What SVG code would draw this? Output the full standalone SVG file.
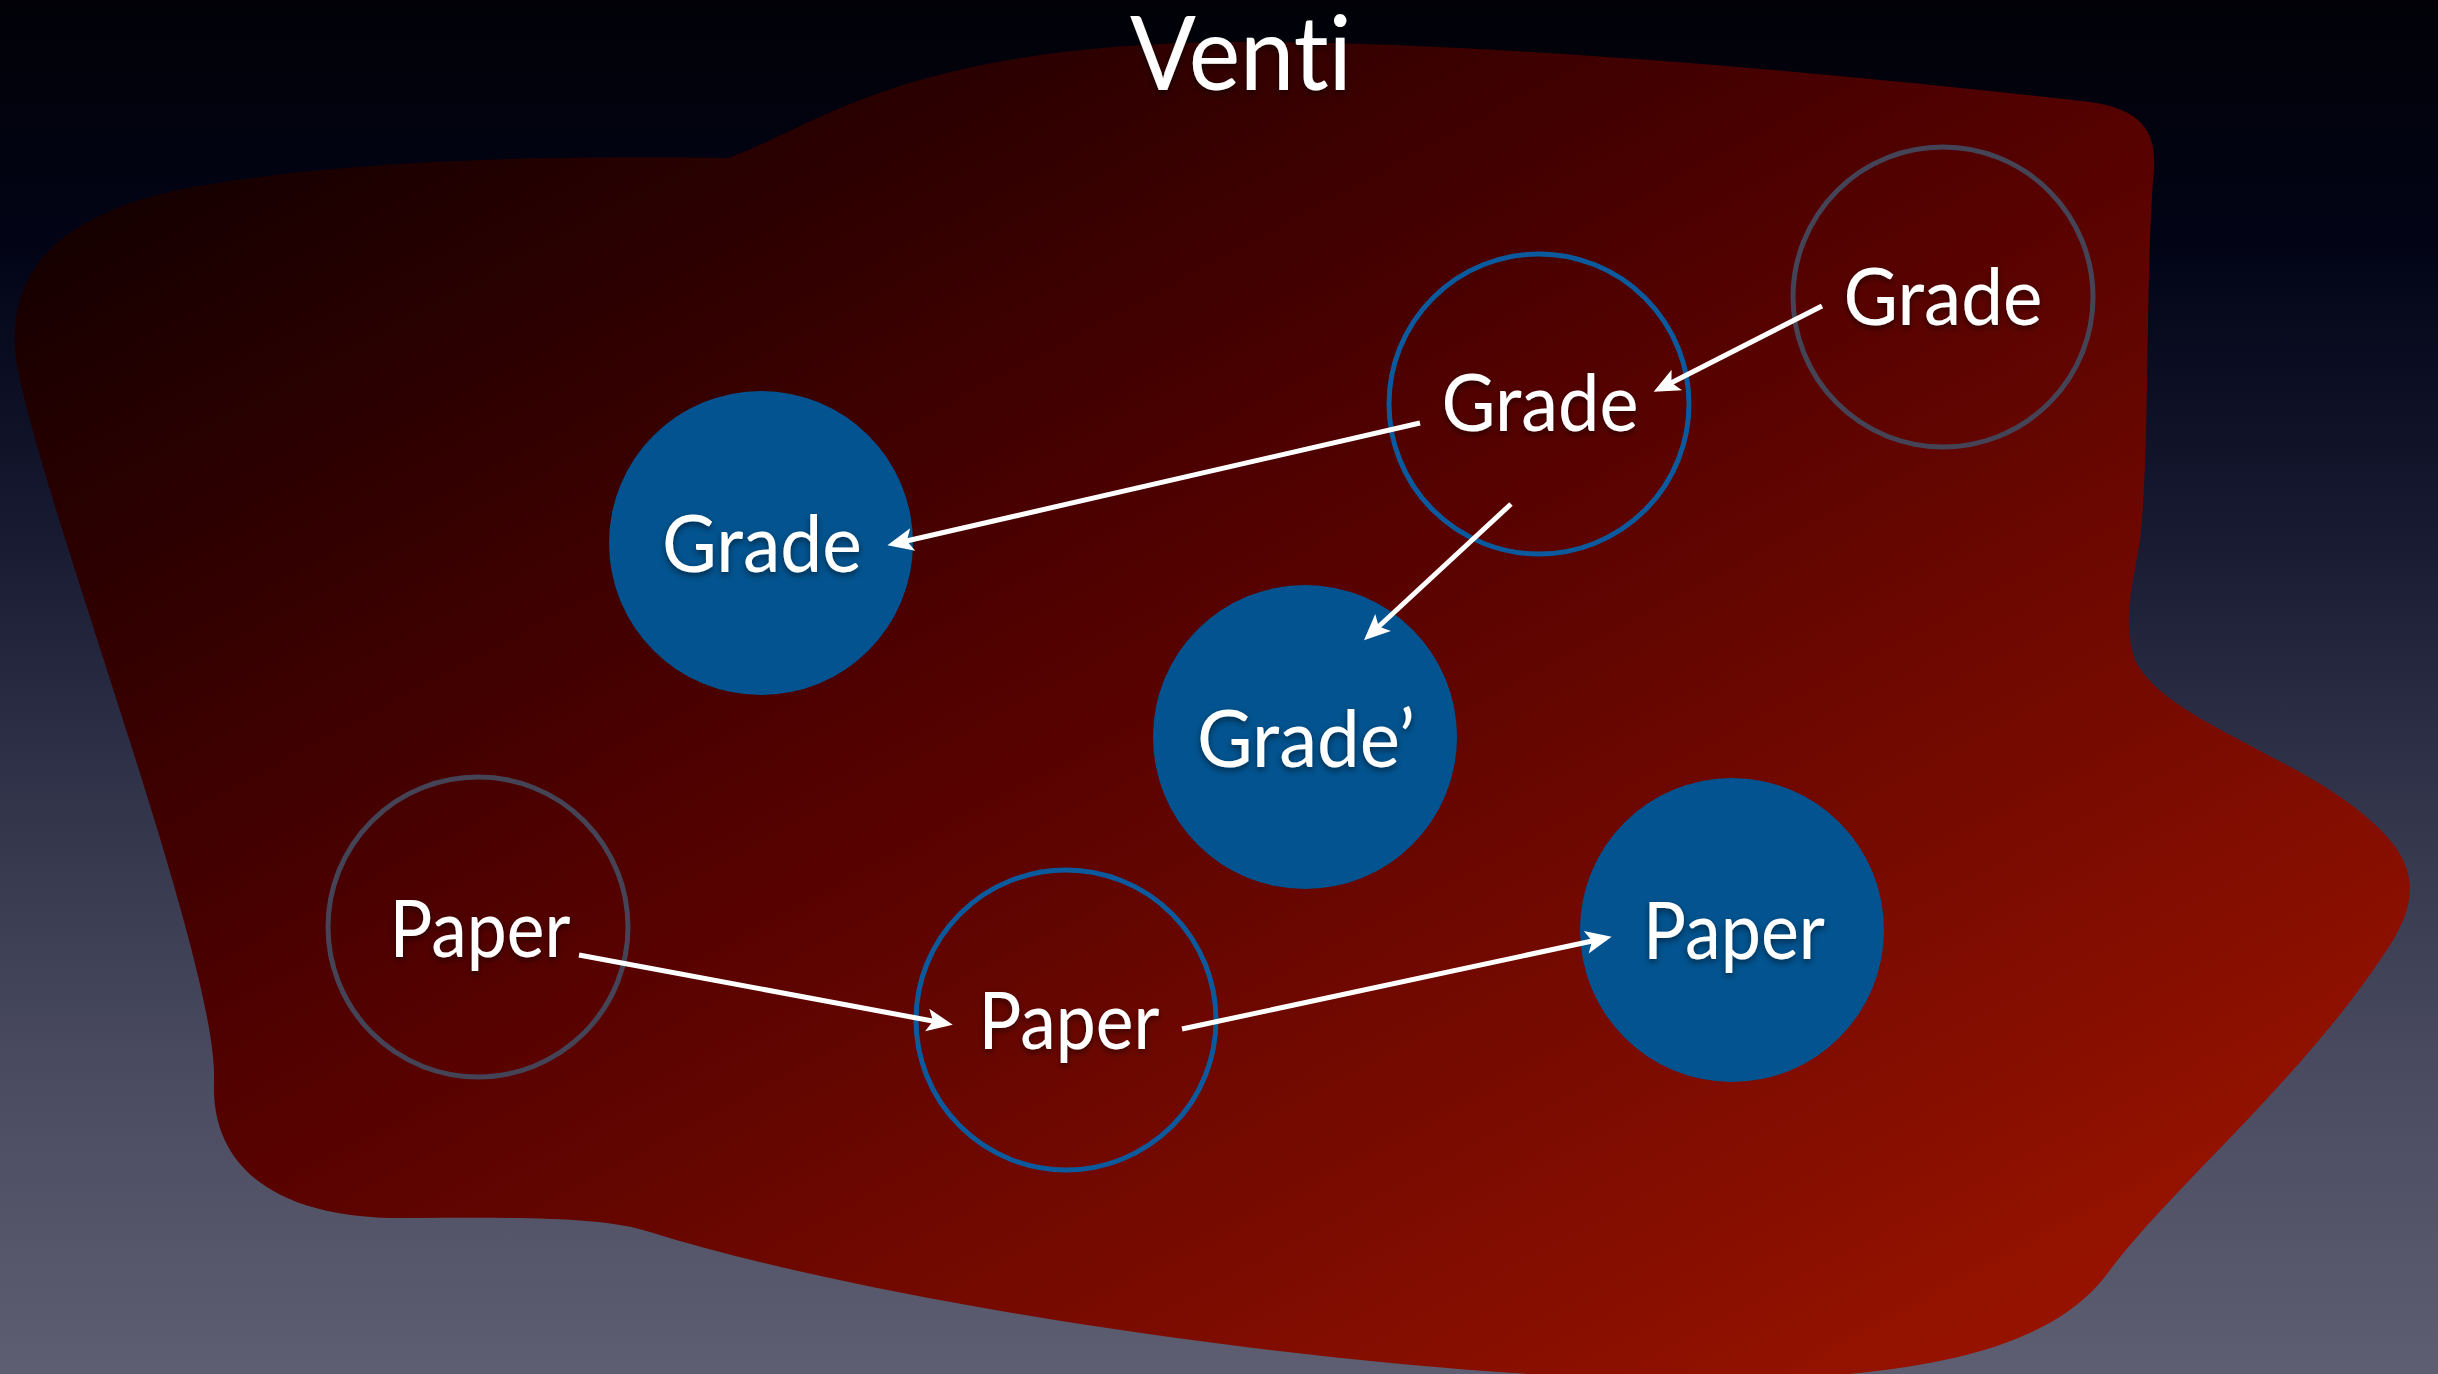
<svg xmlns="http://www.w3.org/2000/svg" width="2438" height="1374" viewBox="0 0 2438 1374">
<defs>
<linearGradient id="bg" x1="0" y1="0" x2="0" y2="1">
<stop offset="0" stop-color="#010107"/>
<stop offset="0.18" stop-color="#020416"/>
<stop offset="0.38" stop-color="#161930"/>
<stop offset="0.55" stop-color="#2e3047"/>
<stop offset="0.78" stop-color="#4a4b60"/>
<stop offset="1" stop-color="#5e5e72"/>
</linearGradient>
<linearGradient id="blob" gradientUnits="userSpaceOnUse" x1="100" y1="150" x2="1035" y2="1892">
<stop offset="0" stop-color="#120000"/>
<stop offset="0.45" stop-color="#520100"/>
<stop offset="1" stop-color="#981300"/>
</linearGradient>
<filter id="ts" x="-10%" y="-20%" width="120%" height="150%">
<feDropShadow dx="0" dy="3" stdDeviation="3" flood-color="#000000" flood-opacity="0.5"/>
</filter>
<marker id="ah" markerUnits="userSpaceOnUse" markerWidth="40" markerHeight="40" viewBox="-20 -20 40 40" refX="0" refY="0" orient="auto">
<path d="M15,0 L-11,-11.5 L-5,0 L-11,11.5 Z" fill="#ffffff"/>
</marker>
<style>
.lbl{font-family:Lato,"Open Sans","DejaVu Sans",sans-serif;fill:#ffffff;text-anchor:middle;filter:url(#ts);font-variant-ligatures:none}
.n{font-size:80px}
.filled{fill:#02538f;stroke:none}
.outb{fill:none;stroke:#0b5a9e;stroke-width:5}
.outg{fill:none;stroke:#454457;stroke-width:5}
.edge{stroke:#ffffff;stroke-width:5;fill:none;marker-end:url(#ah)}
</style>
</defs>
<rect x="0" y="0" width="2438" height="1374" fill="url(#bg)"/>
<path id="region" fill="url(#blob)" d="M 728 158 C 820 125 900 48 1220 42 C 1500 40 1900 80 2090 102 C 2150 110 2158 140 2153 180 C 2145 300 2150 450 2140 540 C 2132 590 2122 620 2135 660 C 2160 710 2250 740 2330 790 C 2420 850 2430 890 2380 960 C 2300 1080 2170 1190 2110 1270 C 2060 1340 1950 1380 1700 1380 C 1400 1380 900 1310 650 1232 C 600 1215 500 1218 400 1218 C 280 1218 210 1170 214 1080 C 218 960 40 500 16 360 C 5 270 60 210 200 186 C 350 160 550 155 728 158 Z"/>
<text class="lbl" x="1241" y="90" font-size="102" textLength="222" lengthAdjust="spacingAndGlyphs">Venti</text>
<g id="grade-filled">
<circle class="filled" cx="761" cy="543" r="152"/>
<text class="lbl n" x="762" y="572" textLength="200" lengthAdjust="spacingAndGlyphs">Grade</text>
</g>
<g id="grade-mid">
<circle class="outb" cx="1539" cy="404" r="150"/>
<text class="lbl n" x="1540" y="431" textLength="197" lengthAdjust="spacingAndGlyphs">Grade</text>
</g>
<g id="grade-gray">
<circle class="outg" cx="1943" cy="297" r="150"/>
<text class="lbl n" x="1943" y="325" textLength="199" lengthAdjust="spacingAndGlyphs">Grade</text>
</g>
<g id="grade-prime">
<circle class="filled" cx="1305" cy="737" r="152"/>
<text class="lbl n" x="1306" y="767" textLength="218" lengthAdjust="spacingAndGlyphs">Grade’</text>
</g>
<g id="paper-gray">
<circle class="outg" cx="478" cy="927" r="150"/>
<text class="lbl n" x="480" y="957" textLength="181" lengthAdjust="spacingAndGlyphs">Paper</text>
</g>
<g id="paper-mid">
<circle class="outb" cx="1066" cy="1020" r="150"/>
<text class="lbl n" x="1069" y="1049" textLength="181" lengthAdjust="spacingAndGlyphs">Paper</text>
</g>
<g id="paper-filled">
<circle class="filled" cx="1732" cy="930" r="152"/>
<text class="lbl n" x="1734" y="959" textLength="182" lengthAdjust="spacingAndGlyphs">Paper</text>
</g>
<g id="connectors">
<path class="edge" d="M1822,306 L1667,385"/>
<path class="edge" d="M1420,423 L902,542"/>
<path class="edge" d="M1511,504 L1375,630"/>
<path class="edge" d="M579,955 L938,1022"/>
<path class="edge" d="M1182,1029 L1597,940"/>
</g>
</svg>
